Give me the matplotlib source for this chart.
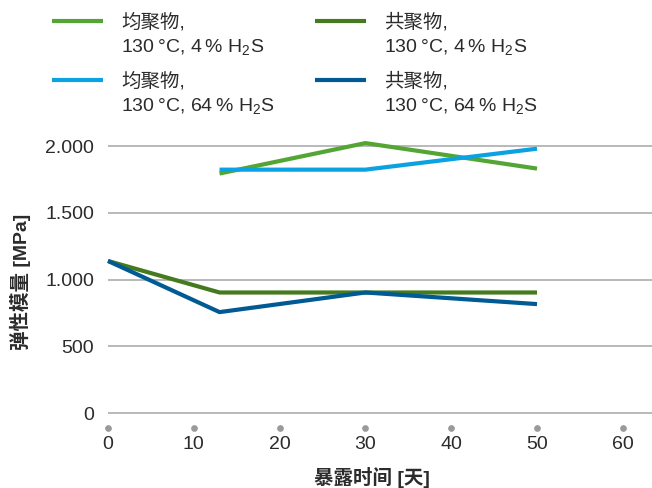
import matplotlib
matplotlib.use("Agg")
import matplotlib.pyplot as plt
from matplotlib.lines import Line2D
from matplotlib.ticker import FuncFormatter

plt.rcParams['font.family'] = ['Liberation Sans', 'Noto Sans CJK SC']
plt.rcParams['mathtext.fontset'] = 'custom'
plt.rcParams['mathtext.rm'] = 'Liberation Sans'

# data
days_homo = [13, 30, 50]
days_co = [0, 13, 30, 50]
homo_4 = [1794, 2022, 1831]
homo_64 = [1823, 1823, 1980]
co_4 = [1139, 903, 903, 903]
co_64 = [1139, 756, 903, 816]

x_ticks = [0, 10, 20, 30, 40, 50, 60]
y_ticks = [0, 500, 1000, 1500, 2000]

c_homo4 = '#53A633'
c_co4 = '#457A1F'
c_homo64 = '#0AA2E0'
c_co64 = '#005A93'
txt = '#2b2b2b'
fs = 14

W, H = 652, 488
fig = plt.figure(figsize=(W / 100, H / 100), dpi=100)
ax = fig.add_axes([108 / W, (H - 428) / H, 544 / W, 298 / H])

ax.plot(days_homo, homo_4, color=c_homo4, lw=3, clip_on=False, solid_capstyle='butt')
ax.plot(days_homo, homo_64, color=c_homo64, lw=3, clip_on=False, solid_capstyle='butt')
ax.plot(days_co, co_4, color=c_co4, lw=3, clip_on=False, solid_capstyle='butt')
ax.plot(days_co, co_64, color=c_co64, lw=3, clip_on=False, solid_capstyle='butt')

ax.set_xlim(0, 544 / 85.8 * 10)
ax.set_ylim(-112, 2120)
ax.set_xticks(x_ticks)
ax.set_yticks(y_ticks)
ax.yaxis.set_major_formatter(FuncFormatter(lambda v, p: f"{v:,.0f}".replace(",", ".")))
ax.grid(axis='y', color='#a6a6a6', lw=1.1)
ax.set_axisbelow(True)
for s in ax.spines.values():
    s.set_visible(False)
ax.tick_params(axis='y', length=0, pad=10, labelsize=fs, labelcolor=txt)
ax.tick_params(axis='x', length=0, pad=6, labelsize=fs, labelcolor=txt)
for t in ax.xaxis.get_major_ticks():
    t.tick1line.set_marker('o')
    t.tick1line.set_markersize(4)
    t.tick1line.set_markerfacecolor('#9a9a9a')
    t.tick1line.set_markeredgecolor('#9a9a9a')

fig.text(20 / W, 1 - 282 / H, '弹性模量 [MPa]', rotation=90, ha='center', va='center',
         fontsize=fs, fontweight='bold', color=txt)
fig.text(372 / W, 1 - 477 / H, '暴露时间 [天]', ha='center', va='center',
         fontsize=fs, fontweight='bold', color=txt)

# legend, two columns
entries = [
    (c_homo4, '均聚物,', '130\u2009°C, 4\u2009% H$_2$S', 52, 21),
    (c_co4, '共聚物,', '130\u2009°C, 4\u2009% H$_2$S', 315, 21),
    (c_homo64, '均聚物,', '130\u2009°C, 64\u2009% H$_2$S', 52, 80),
    (c_co64, '共聚物,', '130\u2009°C, 64\u2009% H$_2$S', 315, 80),
]
for col, l1, l2, x0, y0 in entries:
    fig.add_artist(Line2D([x0 / W, (x0 + 51) / W], [1 - y0 / H, 1 - y0 / H],
                          color=col, lw=3, solid_capstyle='butt'))
    fig.text((x0 + 69) / W, 1 - (y0 + 1) / H, l1, va='center', fontsize=fs, color=txt)
    fig.text((x0 + 69) / W, 1 - (y0 + 27) / H, l2, va='center', fontsize=fs, color=txt)

fig.savefig('out.png', dpi=100)
